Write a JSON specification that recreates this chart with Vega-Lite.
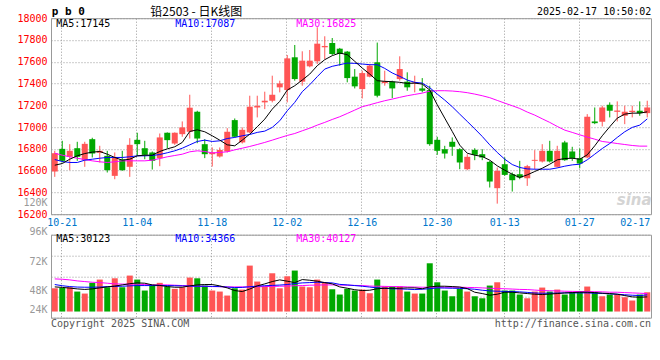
{
"$schema": "https://vega.github.io/schema/vega-lite/v6.json",
"padding": {"left": 16, "top": 5.2, "right": 0, "bottom": 0},
"background": "white",
"bounds": "flush",
"spacing": 20.5,
"config": {
 "view": {"stroke": "#999999", "strokeWidth": 1},
 "axis": {"labelFont": "DejaVu Sans Mono", "labelFontSize": 10, "gridColor": "#999999", "gridDash": [1, 2], "gridWidth": 1, "ticks": false, "domain": false},
 "text": {"font": "DejaVu Sans Mono", "fontSize": 10}
},
"datasets": {"k": [
{"d":"10-18","o":16592,"h":16782,"l":16543,"c":16760,"v":45400,"m5":16650,"m10":16702,"m30":16760,"vm5":48100,"vm10":52700,"vm30":63700},
{"d":"10-21","o":16800,"h":16874,"l":16675,"c":16690,"v":46000,"m5":16665,"m10":16684,"m30":16742,"vm5":47100,"vm10":50400,"vm30":63000},
{"d":"10-22","o":16727,"h":16843,"l":16604,"c":16782,"v":47400,"m5":16705,"m10":16675,"m30":16727,"vm5":45800,"vm10":48750,"vm30":61800},
{"d":"10-23","o":16806,"h":16865,"l":16690,"c":16727,"v":39000,"m5":16736,"m10":16675,"m30":16714,"vm5":44200,"vm10":47800,"vm30":59800},
{"d":"10-24","o":16696,"h":16865,"l":16635,"c":16846,"v":35100,"m5":16757,"m10":16696,"m30":16702,"vm5":43200,"vm10":47450,"vm30":58500},
{"d":"10-25","o":16889,"h":16902,"l":16721,"c":16757,"v":56000,"m5":16770,"m10":16705,"m30":16690,"vm5":44200,"vm10":47450,"vm30":57200},
{"d":"10-28","o":16764,"h":16828,"l":16675,"c":16782,"v":62400,"m5":16776,"m10":16714,"m30":16681,"vm5":46150,"vm10":47800,"vm30":56500},
{"d":"10-29","o":16736,"h":16782,"l":16583,"c":16604,"v":47400,"m5":16751,"m10":16721,"m30":16675,"vm5":48100,"vm10":48750,"vm30":55300},
{"d":"10-30","o":16552,"h":16767,"l":16521,"c":16721,"v":64900,"m5":16721,"m10":16721,"m30":16681,"vm5":49700,"vm10":49100,"vm30":54000},
{"d":"10-31","o":16702,"h":16782,"l":16598,"c":16604,"v":47400,"m5":16696,"m10":16721,"m30":16690,"vm5":52000,"vm10":49400,"vm30":53600},
{"d":"11-01","o":16635,"h":16898,"l":16543,"c":16837,"v":70200,"m5":16705,"m10":16727,"m30":16690,"vm5":54300,"vm10":50100,"vm30":53300},
{"d":"11-04","o":16883,"h":16948,"l":16736,"c":16843,"v":62400,"m5":16736,"m10":16736,"m30":16690,"vm5":55900,"vm10":50700,"vm30":53300},
{"d":"11-05","o":16806,"h":16874,"l":16705,"c":16745,"v":41000,"m5":16742,"m10":16736,"m30":16690,"vm5":55300,"vm10":50700,"vm30":52700},
{"d":"11-06","o":16767,"h":16776,"l":16610,"c":16690,"v":50700,"m5":16742,"m10":16739,"m30":16696,"vm5":52000,"vm10":50700,"vm30":52000},
{"d":"11-07","o":16714,"h":16941,"l":16641,"c":16905,"v":56000,"m5":16776,"m10":16748,"m30":16711,"vm5":51000,"vm10":50700,"vm30":52000},
{"d":"11-08","o":16948,"h":16951,"l":16806,"c":16880,"v":48800,"m5":16800,"m10":16764,"m30":16727,"vm5":48750,"vm10":50700,"vm30":52000},
{"d":"11-11","o":16849,"h":16951,"l":16837,"c":16948,"v":44300,"m5":16819,"m10":16782,"m30":16739,"vm5":47450,"vm10":50400,"vm30":51400},
{"d":"11-12","o":16935,"h":17052,"l":16911,"c":16997,"v":47400,"m5":16859,"m10":16806,"m30":16751,"vm5":47450,"vm10":50100,"vm30":50700},
{"d":"11-13","o":16957,"h":17297,"l":16895,"c":17178,"v":66300,"m5":16960,"m10":16837,"m30":16773,"vm5":50100,"vm10":49700,"vm30":50100},
{"d":"11-14","o":17141,"h":17150,"l":16852,"c":16895,"v":64900,"m5":16975,"m10":16868,"m30":16782,"vm5":52000,"vm10":49400,"vm30":49400},
{"d":"11-15","o":16843,"h":16889,"l":16715,"c":16751,"v":50700,"m5":16957,"m10":16880,"m30":16776,"vm5":52700,"vm10":49400,"vm30":49100},
{"d":"11-18","o":16751,"h":16813,"l":16638,"c":16767,"v":41000,"m5":16920,"m10":16868,"m30":16763,"vm5":52700,"vm10":49100,"vm30":48750},
{"d":"11-19","o":16730,"h":16813,"l":16720,"c":16790,"v":39000,"m5":16880,"m10":16874,"m30":16767,"vm5":50100,"vm10":48750,"vm30":48400},
{"d":"11-20","o":16776,"h":16990,"l":16767,"c":16957,"v":31200,"m5":16837,"m10":16895,"m30":16773,"vm5":46150,"vm10":47800,"vm30":48100},
{"d":"11-21","o":17064,"h":17079,"l":16905,"c":16911,"v":45400,"m5":16828,"m10":16905,"m30":16791,"vm5":40950,"vm10":46800,"vm30":48100},
{"d":"11-22","o":16859,"h":16997,"l":16849,"c":16975,"v":42900,"m5":16880,"m10":16920,"m30":16806,"vm5":39000,"vm10":47100,"vm30":48100},
{"d":"11-25","o":16951,"h":17288,"l":16944,"c":17187,"v":89700,"m5":16935,"m10":16932,"m30":16822,"vm5":43900,"vm10":48400,"vm30":48100},
{"d":"11-26","o":17180,"h":17288,"l":17089,"c":17195,"v":58500,"m5":17003,"m10":16951,"m30":16840,"vm5":50100,"vm10":49700,"vm30":48400},
{"d":"11-27","o":17227,"h":17325,"l":17165,"c":17242,"v":48800,"m5":17073,"m10":16963,"m30":16859,"vm5":53950,"vm10":50400,"vm30":48750},
{"d":"11-28","o":17242,"h":17472,"l":17227,"c":17297,"v":74700,"m5":17165,"m10":16997,"m30":16880,"vm5":58500,"vm10":51000,"vm30":49100},
{"d":"11-29","o":17365,"h":17426,"l":17319,"c":17401,"v":45400,"m5":17236,"m10":17058,"m30":16902,"vm5":61800,"vm10":51700,"vm30":49400},
{"d":"12-02","o":17340,"h":17662,"l":17227,"c":17631,"v":68800,"m5":17340,"m10":17150,"m30":16923,"vm5":59200,"vm10":52700,"vm30":49700},
{"d":"12-03","o":17641,"h":17754,"l":17426,"c":17441,"v":80000,"m5":17380,"m10":17227,"m30":16941,"vm5":56500,"vm10":54600,"vm30":50400},
{"d":"12-04","o":17417,"h":17696,"l":17380,"c":17610,"v":48800,"m5":17432,"m10":17325,"m30":16966,"vm5":62400,"vm10":55900,"vm30":50700},
{"d":"12-05","o":17558,"h":17708,"l":17549,"c":17610,"v":47400,"m5":17487,"m10":17389,"m30":16990,"vm5":61100,"vm10":56500,"vm30":51400},
{"d":"12-06","o":17604,"h":17917,"l":17579,"c":17766,"v":62400,"m5":17564,"m10":17463,"m30":17018,"vm5":59200,"vm10":57200,"vm30":51700},
{"d":"12-09","o":17733,"h":17834,"l":17625,"c":17745,"v":56000,"m5":17619,"m10":17533,"m30":17043,"vm5":56500,"vm10":56500,"vm30":52000},
{"d":"12-10","o":17772,"h":17818,"l":17662,"c":17671,"v":43500,"m5":17656,"m10":17558,"m30":17070,"vm5":54000,"vm10":55900,"vm30":52000},
{"d":"12-11","o":17720,"h":17727,"l":17564,"c":17671,"v":33200,"m5":17680,"m10":17573,"m30":17095,"vm5":48100,"vm10":53000,"vm30":51700},
{"d":"12-12","o":17693,"h":17699,"l":17411,"c":17450,"v":44300,"m5":17665,"m10":17588,"m30":17125,"vm5":45500,"vm10":52000,"vm30":51400},
{"d":"12-13","o":17463,"h":17533,"l":17355,"c":17374,"v":41000,"m5":17604,"m10":17585,"m30":17156,"vm5":42600,"vm10":50700,"vm30":51000},
{"d":"12-16","o":17349,"h":17518,"l":17263,"c":17496,"v":42900,"m5":17542,"m10":17579,"m30":17187,"vm5":40950,"vm10":49400,"vm30":50700},
{"d":"12-17","o":17463,"h":17579,"l":17457,"c":17564,"v":35700,"m5":17487,"m10":17573,"m30":17205,"vm5":41600,"vm10":47800,"vm30":49700},
{"d":"12-18","o":17595,"h":17776,"l":17273,"c":17288,"v":62400,"m5":17426,"m10":17573,"m30":17224,"vm5":44500,"vm10":46150,"vm30":49400},
{"d":"12-19","o":17404,"h":17518,"l":17380,"c":17420,"v":48800,"m5":17420,"m10":17539,"m30":17242,"vm5":45500,"vm10":45200,"vm30":49100},
{"d":"12-20","o":17417,"h":17426,"l":17266,"c":17355,"v":48800,"m5":17417,"m10":17497,"m30":17257,"vm5":45500,"vm10":44500,"vm30":48750},
{"d":"12-23","o":17441,"h":17650,"l":17426,"c":17533,"v":48800,"m5":17411,"m10":17466,"m30":17273,"vm5":45500,"vm10":44200,"vm30":48750},
{"d":"12-24","o":17417,"h":17503,"l":17334,"c":17365,"v":39000,"m5":17401,"m10":17432,"m30":17288,"vm5":46150,"vm10":43550,"vm30":48100},
{"d":"12-25","o":17401,"h":17472,"l":17319,"c":17410,"v":35100,"m5":17404,"m10":17411,"m30":17300,"vm5":46150,"vm10":42900,"vm30":47800},
{"d":"12-26","o":17355,"h":17450,"l":17319,"c":17334,"v":35100,"m5":17395,"m10":17404,"m30":17312,"vm5":44500,"vm10":43550,"vm30":47450},
{"d":"12-27","o":17340,"h":17380,"l":16828,"c":16843,"v":94200,"m5":17340,"m10":17362,"m30":17330,"vm5":48100,"vm10":44500,"vm30":47450},
{"d":"12-30","o":16883,"h":16911,"l":16745,"c":16782,"v":57100,"m5":17205,"m10":17303,"m30":17334,"vm5":49400,"vm10":46150,"vm30":47450},
{"d":"12-31","o":16797,"h":16828,"l":16711,"c":16757,"v":41000,"m5":17082,"m10":17248,"m30":17334,"vm5":49400,"vm10":45800,"vm30":47450},
{"d":"01-02","o":16865,"h":16905,"l":16736,"c":16819,"v":29800,"m5":16960,"m10":17187,"m30":17331,"vm5":48750,"vm10":45500,"vm30":47450},
{"d":"01-03","o":16797,"h":16806,"l":16613,"c":16675,"v":44300,"m5":16834,"m10":17119,"m30":17325,"vm5":47800,"vm10":45200,"vm30":47450},
{"d":"01-06","o":16613,"h":16751,"l":16604,"c":16727,"v":39000,"m5":16760,"m10":17052,"m30":17316,"vm5":44850,"vm10":44500,"vm30":47100},
{"d":"01-07","o":16791,"h":16806,"l":16696,"c":16745,"v":29800,"m5":16742,"m10":16984,"m30":17303,"vm5":37700,"vm10":43550,"vm30":46800},
{"d":"01-08","o":16751,"h":16797,"l":16696,"c":16721,"v":25900,"m5":16730,"m10":16914,"m30":17288,"vm5":35100,"vm10":41600,"vm30":46150},
{"d":"01-09","o":16681,"h":16690,"l":16445,"c":16500,"v":50700,"m5":16696,"m10":16837,"m30":17270,"vm5":31850,"vm10":40300,"vm30":45500},
{"d":"01-10","o":16439,"h":16629,"l":16297,"c":16598,"v":57100,"m5":16644,"m10":16767,"m30":17245,"vm5":33800,"vm10":39650,"vm30":44850},
{"d":"01-13","o":16659,"h":16721,"l":16552,"c":16561,"v":41000,"m5":16604,"m10":16705,"m30":17220,"vm5":37700,"vm10":39300,"vm30":44500},
{"d":"01-14","o":16567,"h":16583,"l":16408,"c":16512,"v":41000,"m5":16567,"m10":16656,"m30":17196,"vm5":37700,"vm10":39000,"vm30":43900},
{"d":"01-15","o":16567,"h":16690,"l":16521,"c":16537,"v":33200,"m5":16537,"m10":16629,"m30":17171,"vm5":36400,"vm10":38400,"vm30":43200},
{"d":"01-16","o":16530,"h":16653,"l":16460,"c":16641,"v":25900,"m5":16561,"m10":16616,"m30":17138,"vm5":35100,"vm10":37400,"vm30":42900},
{"d":"01-17","o":16690,"h":16788,"l":16613,"c":16699,"v":39000,"m5":16592,"m10":16613,"m30":17110,"vm5":33800,"vm10":36100,"vm30":41900},
{"d":"01-20","o":16684,"h":16843,"l":16675,"c":16782,"v":46800,"m5":16622,"m10":16613,"m30":17076,"vm5":33150,"vm10":35750,"vm30":40950},
{"d":"01-21","o":16782,"h":16874,"l":16675,"c":16684,"v":39000,"m5":16659,"m10":16613,"m30":17043,"vm5":34100,"vm10":35750,"vm30":40600},
{"d":"01-22","o":16635,"h":16828,"l":16629,"c":16782,"v":42900,"m5":16699,"m10":16625,"m30":17006,"vm5":35100,"vm10":36100,"vm30":40300},
{"d":"01-23","o":16859,"h":16874,"l":16690,"c":16696,"v":33200,"m5":16711,"m10":16641,"m30":16972,"vm5":36400,"vm10":36400,"vm30":39650},
{"d":"01-24","o":16776,"h":16819,"l":16690,"c":16714,"v":37600,"m5":16714,"m10":16653,"m30":16951,"vm5":37000,"vm10":36400,"vm30":39300},
{"d":"01-27","o":16714,"h":16803,"l":16622,"c":16665,"v":39000,"m5":16705,"m10":16659,"m30":16929,"vm5":37700,"vm10":36400,"vm30":39000},
{"d":"02-05","o":16721,"h":17119,"l":16714,"c":17095,"v":48800,"m5":16745,"m10":16699,"m30":16908,"vm5":37700,"vm10":36400,"vm30":39000},
{"d":"02-06","o":17052,"h":17180,"l":17027,"c":17036,"v":37600,"m5":16828,"m10":16751,"m30":16889,"vm5":37000,"vm10":35750,"vm30":38700},
{"d":"02-07","o":17049,"h":17196,"l":17006,"c":17180,"v":29800,"m5":16920,"m10":16803,"m30":16868,"vm5":35750,"vm10":35400,"vm30":38400},
{"d":"02-10","o":17205,"h":17227,"l":17089,"c":17150,"v":33200,"m5":17003,"m10":16849,"m30":16859,"vm5":35100,"vm10":34450,"vm30":37700},
{"d":"02-11","o":17140,"h":17236,"l":17052,"c":17152,"v":33200,"m5":17082,"m10":16905,"m30":16849,"vm5":33800,"vm10":33800,"vm30":37700},
{"d":"02-12","o":17104,"h":17196,"l":17027,"c":17141,"v":27900,"m5":17119,"m10":16957,"m30":16840,"vm5":31200,"vm10":32800,"vm30":37000},
{"d":"02-13","o":17138,"h":17196,"l":17089,"c":17150,"v":21500,"m5":17128,"m10":16997,"m30":16831,"vm5":28600,"vm10":31850,"vm30":36400},
{"d":"02-14","o":17150,"h":17236,"l":17104,"c":17128,"v":33200,"m5":17128,"m10":17018,"m30":16825,"vm5":27950,"vm10":31200,"vm30":35750},
{"d":"02-17","o":17128,"h":17242,"l":17089,"c":17180,"v":37600,"m5":17140,"m10":17075,"m30":16825,"vm5":28600,"vm10":32500,"vm30":35100}
]},
"vconcat": [
 {
  "width": 600, "height": 196,
  "data": {"name": "k"},
  "layer": [
   {"mark": {"type": "rule", "strokeWidth": 1},
    "encoding": {
     "x": {"field": "d", "type": "ordinal", "sort": null, "bandPosition": 0.5,
       "scale": {"type": "band", "paddingInner": 0.2, "paddingOuter": 0.1},
       "axis": {"title": null, "values": ["10-21","11-04","11-18","12-02","12-16","12-30","01-13","01-27","02-17"], "bandPosition": 0.4, "labelAngle": 0, "labelColor": "#0077cc", "labelPadding": 3, "grid": true, "labelBound": false, "labelOverlap": false,
         "labelAlign": {"condition": {"test": "datum.value === '02-17'", "value": "right"}, "value": "center"},
         "labelOffset": {"condition": {"test": "datum.value === '02-17'", "value": 3}, "value": 0},
         "gridOpacity": {"condition": {"test": "datum.value === '02-17'", "value": 0}, "value": 1}}},
     "y": {"field": "l", "type": "quantitative", "scale": {"domain": [16200, 18000], "nice": false, "zero": false},
       "axis": {"title": null, "values": [16200,16400,16600,16800,17000,17200,17400,17600,17800,18000], "tickCount": 50, "format": "d", "labelColor": "#ff0000", "labelPadding": 4, "grid": true, "labelOverlap": false, "labelBound": false, "labelFlush": false}},
     "y2": {"field": "h"},
     "color": {"condition": {"test": "datum.c >= datum.o", "value": "#ff5555"}, "value": "#00a800"}
    }},
   {"mark": {"type": "bar"},
    "encoding": {
     "x": {"field": "d", "type": "ordinal", "sort": null},
     "y": {"field": "o", "type": "quantitative"},
     "y2": {"field": "c"},
     "color": {"condition": {"test": "datum.c >= datum.o", "value": "#ff5555"}, "value": "#00a800"}
    }},
   {"mark": {"type": "line", "strokeWidth": 1, "color": "#ff00ff"},
    "encoding": {"x": {"field": "d", "type": "ordinal", "sort": null, "bandPosition": 0.5}, "y": {"field": "m30", "type": "quantitative"}}},
   {"mark": {"type": "line", "strokeWidth": 1, "color": "#0000ff"},
    "encoding": {"x": {"field": "d", "type": "ordinal", "sort": null, "bandPosition": 0.5}, "y": {"field": "m10", "type": "quantitative"}}},
   {"mark": {"type": "line", "strokeWidth": 1, "color": "#000000"},
    "encoding": {"x": {"field": "d", "type": "ordinal", "sort": null, "bandPosition": 0.5}, "y": {"field": "m5", "type": "quantitative"}}},
   {"data": {"values": [{}]}, "mark": {"type": "text", "text": "sina", "align": "center", "baseline": "middle", "dx": 2, "font": "DejaVu Sans", "fontSize": 15, "fontStyle": "italic", "fontWeight": "bold", "color": "#d4d4d4"},
    "encoding": {"x": {"datum": "02-13", "type": "ordinal", "bandPosition": 0.5}, "y": {"datum": 16330, "type": "quantitative"}}},
   {"data": {"values": [{}]}, "mark": {"type": "text", "text": "p b 0", "align": "left", "baseline": "middle", "dx": -3, "fontSize": 11, "fontWeight": "bold", "color": "#000000"},
    "encoding": {"x": {"datum": "10-18", "type": "ordinal", "bandPosition": 0.5}, "y": {"datum": 18058, "type": "quantitative"}}},
   {"data": {"values": [{}]}, "mark": {"type": "text", "text": "铅2503 - 日K线图", "align": "center", "baseline": "middle", "dx": -1, "font": "Noto Sans CJK SC", "fontSize": 12, "color": "#000000"},
    "encoding": {"x": {"datum": "11-14", "type": "ordinal", "bandPosition": 0.5}, "y": {"datum": 18058, "type": "quantitative"}}},
   {"data": {"values": [{}]}, "mark": {"type": "text", "text": "2025-02-17 10:50:02", "align": "right", "baseline": "middle", "dx": 4, "color": "#000000"},
    "encoding": {"x": {"datum": "02-17", "type": "ordinal", "bandPosition": 0.5}, "y": {"datum": 18055, "type": "quantitative"}}},
   {"data": {"values": [{}]}, "mark": {"type": "text", "text": "MA5:17145", "align": "left", "baseline": "middle", "dx": 1.5, "color": "#000000"},
    "encoding": {"x": {"datum": "10-18", "type": "ordinal", "bandPosition": 0.5}, "y": {"datum": 17943, "type": "quantitative"}}},
   {"data": {"values": [{}]}, "mark": {"type": "text", "text": "MA10:17087", "align": "left", "baseline": "middle", "dx": 0.5, "color": "#0000ff"},
    "encoding": {"x": {"datum": "11-11", "type": "ordinal", "bandPosition": 0.5}, "y": {"datum": 17943, "type": "quantitative"}}},
   {"data": {"values": [{}]}, "mark": {"type": "text", "text": "MA30:16825", "align": "left", "baseline": "middle", "dx": 1.5, "color": "#ff00ff"},
    "encoding": {"x": {"datum": "12-03", "type": "ordinal", "bandPosition": 0.5}, "y": {"datum": 17943, "type": "quantitative"}}}
  ]
 },
 {
  "width": 600, "height": 83,
  "data": {"name": "k"},
  "layer": [
   {"mark": {"type": "bar"},
    "encoding": {
     "x": {"field": "d", "type": "ordinal", "sort": null,
       "scale": {"type": "band", "paddingInner": 0.2, "paddingOuter": 0.1},
       "axis": {"title": null, "values": ["10-21","11-04","11-18","12-02","12-16","12-30","01-13","01-27","02-17"], "bandPosition": 0.4, "labels": false, "grid": true,
         "gridOpacity": {"condition": {"test": "datum.value === '02-17'", "value": 0}, "value": 1}}},
     "y": {"field": "v", "type": "quantitative", "scale": {"domain": [-12000, 150000], "nice": false, "zero": false},
       "axis": {"title": null, "values": [-12000, 28500, 69000, 109500, 150000], "tickCount": 50, "grid": true, "labelColor": "#999999", "labelPadding": 4, "labelOverlap": false, "labelBound": false, "labelFlush": false,
         "labelExpr": "datum.value > 140000 ? '120K' : datum.value > 100000 ? '96K' : datum.value > 60000 ? '72K' : datum.value > 20000 ? '48K' : '24K'",
         "labelOffset": {"condition": [{"test": "datum.value > 140000", "value": -32}, {"test": "datum.value > 100000", "value": -24}, {"test": "datum.value > 60000", "value": -15}, {"test": "datum.value > 20000", "value": -6}], "value": -8}}},
     "y2": {"datum": 0},
     "color": {"condition": {"test": "datum.c >= datum.o", "value": "#ff5555"}, "value": "#00a800"}
    }},
   {"mark": {"type": "line", "strokeWidth": 1, "color": "#ff00ff"},
    "encoding": {"x": {"field": "d", "type": "ordinal", "sort": null, "bandPosition": 0.5}, "y": {"field": "vm30", "type": "quantitative"}}},
   {"mark": {"type": "line", "strokeWidth": 1, "color": "#0000ff"},
    "encoding": {"x": {"field": "d", "type": "ordinal", "sort": null, "bandPosition": 0.5}, "y": {"field": "vm10", "type": "quantitative"}}},
   {"mark": {"type": "line", "strokeWidth": 1, "color": "#000000"},
    "encoding": {"x": {"field": "d", "type": "ordinal", "sort": null, "bandPosition": 0.5}, "y": {"field": "vm5", "type": "quantitative"}}},
   {"data": {"values": [{}]}, "mark": {"type": "text", "text": "MA5:30123", "align": "left", "baseline": "middle", "dx": 1.5, "color": "#000000"},
    "encoding": {"x": {"datum": "10-18", "type": "ordinal", "bandPosition": 0.5}, "y": {"datum": 141200, "type": "quantitative"}}},
   {"data": {"values": [{}]}, "mark": {"type": "text", "text": "MA10:34366", "align": "left", "baseline": "middle", "dx": 0.5, "color": "#0000ff"},
    "encoding": {"x": {"datum": "11-11", "type": "ordinal", "bandPosition": 0.5}, "y": {"datum": 141200, "type": "quantitative"}}},
   {"data": {"values": [{}]}, "mark": {"type": "text", "text": "MA30:40127", "align": "left", "baseline": "middle", "dx": 1.5, "color": "#ff00ff"},
    "encoding": {"x": {"datum": "12-03", "type": "ordinal", "bandPosition": 0.5}, "y": {"datum": 141200, "type": "quantitative"}}},
   {"data": {"values": [{}]}, "mark": {"type": "text", "text": "Copyright 2025 SINA.COM", "align": "left", "baseline": "middle", "dx": -3.75, "color": "#555555"},
    "encoding": {"x": {"datum": "10-18", "type": "ordinal", "bandPosition": 0.5}, "y": {"datum": -24700, "type": "quantitative"}}},
   {"data": {"values": [{}]}, "mark": {"type": "text", "text": "http://finance.sina.com.cn", "align": "right", "baseline": "middle", "dx": 3.75, "color": "#555555"},
    "encoding": {"x": {"datum": "02-17", "type": "ordinal", "bandPosition": 0.5}, "y": {"datum": -24700, "type": "quantitative"}}}
  ]
 }
]
}
